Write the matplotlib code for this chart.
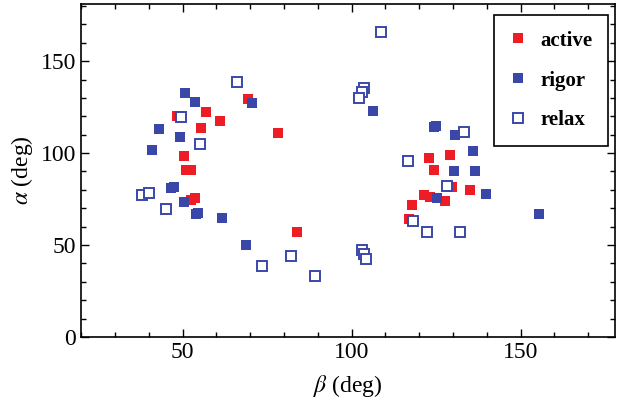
import matplotlib
matplotlib.use("Agg")
import matplotlib.pyplot as plt
from matplotlib.ticker import MultipleLocator

plt.rcParams['font.family'] = ['Liberation Serif', 'DejaVu Serif']
plt.rcParams['mathtext.fontset'] = 'stix'

# active (red filled)
active_beta = [69.3, 48.4, 56.9, 61.2, 55.6, 55.1, 50.4, 51.1, 52.6, 78.1, 53.6, 52.6, 83.9,
               123.0, 129.1, 124.5, 129.7, 135.0, 121.4, 123.3, 127.6, 117.9, 116.9]
active_alpha = [129.3, 120.3, 122.6, 117.2, 113.6, 104.9, 98.4, 90.6, 90.6, 110.7, 75.4, 74.5, 57.2,
                97.3, 99.1, 90.8, 81.7, 79.9, 77.2, 76.3, 73.9, 71.9, 64.3]

# rigor (blue filled)
rigor_beta = [50.6, 53.6, 70.4, 43.0, 49.2, 40.9, 46.6, 47.5, 50.3, 54.1, 54.6, 61.7, 68.7,
              106.2, 124.3, 125.0, 130.7, 135.9, 130.2, 136.6, 125.3, 139.8, 155.3]
rigor_alpha = [132.4, 127.7, 127.3, 113.2, 108.5, 101.8, 81.2, 81.5, 73.4, 66.7, 67.2, 64.5, 50.0,
               123.0, 114.2, 114.7, 109.6, 101.3, 90.4, 90.4, 75.4, 77.7, 66.7]

# relax (blue open)
relax_beta = [66.2, 49.6, 55.1, 37.9, 40.2, 45.2, 73.5, 82.0, 89.3, 103.0, 103.7, 104.3,
              108.7, 103.7, 103.0, 102.1, 116.6, 118.2, 122.3, 133.4, 128.2, 132.0]
relax_alpha = [138.8, 119.6, 104.9, 77.3, 78.4, 69.4, 38.6, 44.0, 33.2, 47.3, 45.1, 42.6,
               165.6, 135.5, 133.2, 129.9, 95.5, 62.9, 57.2, 111.2, 82.1, 57.2]

red = '#ee1c24'
blue = '#3a47a8'

fig = plt.figure(figsize=(6.24, 4.11), dpi=100)
ax = fig.add_axes([0.13, 0.18, 0.856, 0.81])

ax.plot(active_beta, active_alpha, 's', color=red, ms=7.5, mec=red, mew=0, label='active', zorder=3)
ax.plot(rigor_beta, rigor_alpha, 's', color=blue, ms=7.5, mec=blue, mew=0, label='rigor', zorder=3)
ax.plot(relax_beta, relax_alpha, 's', mfc='white', mec=blue, ms=6.5, mew=1.4, label='relax', zorder=4)

ax.set_xlim(20, 178)
ax.set_ylim(0, 181)
ax.xaxis.set_major_locator(MultipleLocator(50))
ax.xaxis.set_minor_locator(MultipleLocator(10))
ax.yaxis.set_major_locator(MultipleLocator(50))
ax.yaxis.set_minor_locator(MultipleLocator(10))
ax.tick_params(which='both', direction='in', top=True, right=True, labelsize=17, width=1)
ax.tick_params(which='major', length=6)
ax.tick_params(which='minor', length=3.5)
for s in ax.spines.values():
    s.set_linewidth(1.2)

ax.set_xlabel(r'$\beta$ (deg)', fontsize=17, labelpad=7)
ax.set_ylabel(r'$\alpha$ (deg)', fontsize=17, labelpad=4)

leg = ax.legend(loc='upper right', bbox_to_anchor=(0.987, 0.967), fancybox=False, edgecolor='black',
                framealpha=1, prop={'size': 15, 'weight': 'bold'}, labelspacing=0.95,
                handlelength=0.8, handletextpad=0.7, borderpad=0.75, borderaxespad=0)
leg.get_frame().set_linewidth(1.2)
leg.set_zorder(5)

fig.savefig('out.png', dpi=100)
